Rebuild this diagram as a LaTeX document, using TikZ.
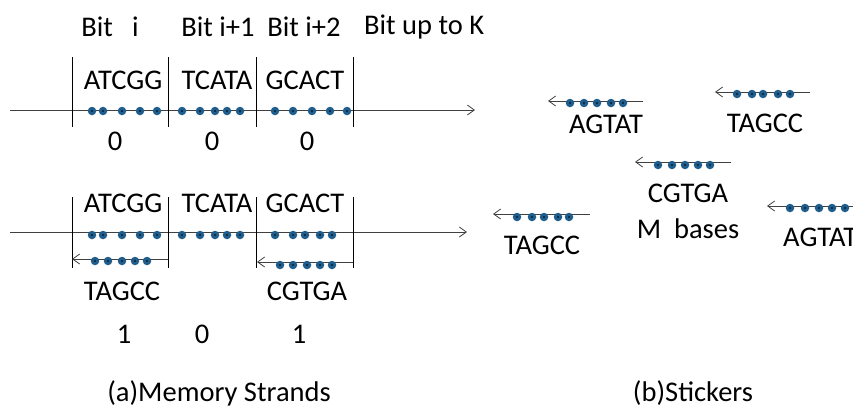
\documentclass[tikz,border=0pt]{standalone}
\usepackage{fontspec}
\setmainfont{Carlito}
\usetikzlibrary{arrows.meta}
\definecolor{dotblue}{RGB}{31,94,140}
\definecolor{linegray}{RGB}{64,64,64}
\tikzstyle{base}=[circle, fill=dotblue, inner sep=0pt, minimum size=8.5pt,
    path picture={\fill[black] (path picture bounding box.center) circle (0.9pt);}]
\tikzstyle{strand}=[linegray, line width=0.8pt, -{Straight Barb[length=7pt,width=10pt]}]
\tikzstyle{sticker}=[linegray, line width=0.8pt, -{Straight Barb[length=7pt,width=10pt]}]
\tikzstyle{tick}=[black, line width=0.8pt]
\tikzstyle{lbl}=[inner sep=0pt, font=\fontsize{28.5}{32}\selectfont]

\begin{document}
\begin{tikzpicture}[x=1pt, y=-1pt]
        \useasboundingbox (0,0) rectangle (853,408);
        \clip (0,0) rectangle (853,408);
        \fill[white] (0,0) rectangle (853,408);
        % bit headers
        \node[lbl] (bi) at (110,27) {Bit~~~i};
        \node[lbl] (bi1) at (218,27) {Bit i+1};
        \node[lbl] (bi2) at (304,27) {Bit i+2};
        \node[lbl, anchor=west] (bk) at (364,27) {Bit up to K};
        % memory strand, all zero
        \coordinate (s1l) at (10,110);
        \coordinate (s1r) at (475,110);
        \draw[strand] (s1l) -- (s1r);
        \foreach \x [count=\i] in {72,168,256,353} {
            \coordinate (ut\i) at (\x,57);
            \coordinate (ub\i) at (\x,127);
            \draw[tick] (ut\i) -- (ub\i);
        }
        \node[lbl] (ua) at (123,80) {ATCGG};
        \node[lbl] (ub) at (217,80) {TCATA};
        \node[lbl] (uc) at (305,80) {GCACT};
        \foreach \x [count=\i] in {92,103,122,140,157,182,200,215,227,240,275,293,312,330,347}
            \node[base] (ud\i) at (\x,111) {};
        \node[lbl] (uz1) at (115,141) {0};
        \node[lbl] (uz2) at (212,141) {0};
        \node[lbl] (uz3) at (307,141) {0};
        % memory strand with stickers
        \coordinate (s2l) at (10,232);
        \coordinate (s2r) at (467,232);
        \draw[strand] (s2l) -- (s2r);
        \foreach \x [count=\i] in {72,168,256,353} {
            \coordinate (lt\i) at (\x,197);
            \coordinate (lb\i) at (\x,268);
            \draw[tick] (lt\i) -- (lb\i);
        }
        \node[lbl] (la) at (123,203) {ATCGG};
        \node[lbl] (lb) at (217,203) {TCATA};
        \node[lbl] (lc) at (305,203) {GCACT};
        \foreach \x [count=\i] in {92,103,122,140,157,182,200,215,227,240,275,293,305,320,332}
            \node[base] (ld\i) at (\x,235) {};
        \coordinate (k1r) at (168,259);
        \coordinate (k1l) at (72,259);
        \draw[sticker] (k1r) -- (k1l);
        \foreach \x [count=\i] in {95,108,122,135,147}
            \node[base] (k1d\i) at (\x,261) {};
        \coordinate (k2r) at (353,262);
        \coordinate (k2l) at (257,262);
        \draw[sticker] (k2r) -- (k2l);
        \foreach \x [count=\i] in {280,293,307,320,332}
            \node[base] (k2d\i) at (\x,265) {};
        \node[lbl] (k1t) at (122,291) {TAGCC};
        \node[lbl] (k2t) at (307,291) {CGTGA};
        \node[lbl] (lz1) at (124,334) {1};
        \node[lbl] (lz2) at (202,334) {0};
        \node[lbl] (lz3) at (299,334) {1};
        % free stickers
        \coordinate (fa1) at (643,101);
        \coordinate (fa2) at (548,101);
        \draw[sticker] (fa1) -- (fa2);
        \foreach \x [count=\i] in {570,584,597,611,623}
            \node[base] (fad\i) at (\x,103) {};
        \node[lbl] (fat) at (606,124) {AGTAT};
        \coordinate (fb1) at (810,92);
        \coordinate (fb2) at (715,92);
        \draw[sticker] (fb1) -- (fb2);
        \foreach \x [count=\i] in {737,752,763,778,790}
            \node[base] (fbd\i) at (\x,94) {};
        \node[lbl] (fbt) at (765,123) {TAGCC};
        \coordinate (fc1) at (731,162);
        \coordinate (fc2) at (635,162);
        \draw[sticker] (fc1) -- (fc2);
        \foreach \x [count=\i] in {658,672,685,698,710}
            \node[base] (fcd\i) at (\x,165) {};
        \node[lbl] (fct) at (688,193) {CGTGA};
        \node[lbl] (fcm) at (688,229) {M~~bases};
        \coordinate (fd1) at (590,214);
        \coordinate (fd2) at (493,214);
        \draw[sticker] (fd1) -- (fd2);
        \foreach \x [count=\i] in {517,532,544,558,569}
            \node[base] (fdd\i) at (\x,217) {};
        \node[lbl] (fdt) at (542,245) {TAGCC};
        \coordinate (fe1) at (870,206);
        \coordinate (fe2) at (767,206);
        \draw[sticker] (fe1) -- (fe2);
        \foreach \x [count=\i] in {790,805,819,832,845}
            \node[base] (fed\i) at (\x,208) {};
        \node[lbl, anchor=west] (fet) at (783,237) {AGTAT};
        % captions
        \node[lbl] (capa) at (219,393) {(a)Memory Strands};
        \node[lbl] (capb) at (693,393) {(b)Stickers};
    \end{tikzpicture}
\end{document}
